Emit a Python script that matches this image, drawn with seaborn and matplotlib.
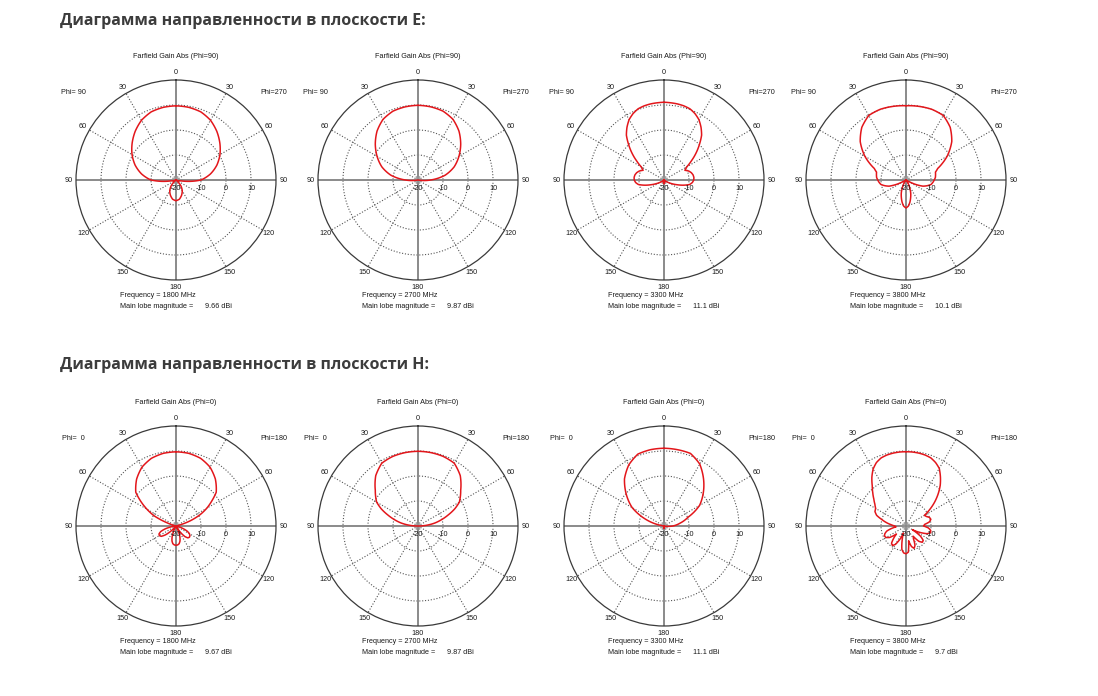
import numpy as np
import pandas as pd
import matplotlib
matplotlib.use("Agg")
import matplotlib.pyplot as plt
import seaborn as sns

sns.set_theme(style="white")
plt.rcParams['font.family'] = ['Liberation Sans', 'DejaVu Sans']

# ---------------- data (gain in dBi vs theta in degrees) ----------------
header_e = "Диаграмма направленности в плоскости E:"
header_h = "Диаграмма направленности в плоскости H:"
frequencies = [1800, 2700, 3300, 3800]
main_lobe_e = ["9.66", "9.87", "11.1", "10.1"]
main_lobe_h = ["9.67", "9.87", "11.1", "9.7"]
angle_tick_labels = ["0", "30", "60", "90", "120", "150", "180", "150", "120", "90", "60", "30"]
radial_ticks = [-20, -10, 0, 10]

# E-plane 1800 MHz
e1800_ang = [0, 10, 20, 30, 40, 50, 60, 70, 80, 90, 95, 100, 110, 120, 130, 140, 150, 160, 170, 180]
e1800_left = [9.66, 9.5, 9.0, 7.6, 5.4, 2.9, 0.3, -2.6, -6.0, -10.0, -14.0, -18.0, -20, -20, -20, -17.0, -15.0, -13.5, -12.2, -11.7]
e1800_right = [9.66, 9.5, 9.0, 7.6, 5.4, 2.9, 0.3, -2.6, -6.0, -10.0, -14.0, -18.0, -20, -20, -20, -17.0, -15.0, -13.5, -12.2, -11.7]

# E-plane 2700 MHz
e2700_ang = [0, 10, 20, 30, 40, 50, 60, 70, 80, 90, 100, 110, 120, 130, 140, 150, 160, 170, 180]
e2700_left = [9.87, 9.7, 9.3, 8.0, 5.5, 2.3, -1.1, -4.6, -9.0, -15.0, -20, -20, -20, -20, -20, -20, -20, -20, -20]
e2700_right = [9.87, 9.7, 9.3, 8.0, 5.5, 2.3, -1.1, -4.6, -9.0, -15.0, -20, -20, -20, -20, -20, -20, -20, -20, -20]

# E-plane 3300 MHz
e3300_ang = [0, 10, 15, 20, 25, 30, 35, 40, 45, 50, 55, 60, 65, 70, 75, 80, 85, 90, 95, 100, 105, 110, 115, 120, 130, 140, 150, 160, 170, 180]
e3300_left = [11.1, 10.9, 10.7, 10.3, 9.3, 7.9, 5.8, 3.4, 0.0, -3.3, -6.6, -9.5, -10.8, -9.5, -8.7, -8.2, -8.0, -8.1, -8.6, -9.6, -12.0, -14.5, -16.5, -18.0, -20, -20, -20, -19.5, -18.8, -18.5]
e3300_right = [11.1, 10.9, 10.7, 10.3, 9.3, 7.9, 5.8, 3.4, 0.0, -3.3, -6.6, -9.5, -10.8, -9.5, -8.7, -8.2, -8.0, -8.1, -8.6, -9.6, -12.0, -14.5, -16.5, -18.0, -20, -20, -20, -19.5, -18.8, -18.5]

# E-plane 3800 MHz
e3800_ang = [0, 10, 20, 30, 40, 50, 60, 65, 70, 75, 80, 85, 90, 95, 100, 105, 110, 115, 120, 130, 140, 150, 155, 160, 165, 170, 175, 180]
e3800_left = [9.7, 9.9, 10.1, 9.8, 7.5, 3.9, -1.0, -3.8, -6.5, -7.8, -8.0, -8.2, -8.7, -9.2, -9.8, -11.2, -12.8, -16.0, -20, -20, -20, -18.0, -16.5, -14.5, -12.8, -11.0, -9.5, -8.8]
e3800_right = [9.7, 9.9, 10.1, 9.8, 7.5, 3.9, -1.0, -3.8, -6.5, -7.8, -8.0, -8.2, -8.7, -9.2, -9.8, -11.2, -12.8, -16.0, -20, -20, -20, -18.0, -16.5, -14.5, -12.8, -11.0, -9.5, -8.8]

# H-plane 1800 MHz
h1800_ang = [0, 10, 20, 30, 40, 50, 55, 60, 65, 70, 75, 80, 90, 100, 105, 110, 115, 120, 125, 130, 135, 140, 145, 150, 155, 160, 165, 170, 175, 180]
h1800_left = [9.67, 9.5, 8.8, 7.2, 4.5, 1.0, -2.8, -6.6, -10.3, -16.0, -20, -20, -20, -18.0, -15.5, -13.5, -12.5, -12.3, -12.8, -14.5, -17.0, -20, -20, -20, -18.0, -15.5, -13.8, -12.8, -12.4, -12.3]
h1800_right = [9.67, 9.5, 8.8, 7.2, 4.5, 1.0, -2.5, -5.8, -9.5, -14.0, -19.0, -20, -20, -20, -19.0, -17.0, -15.0, -13.8, -13.2, -13.0, -13.3, -14.5, -17.0, -20, -18.0, -15.5, -13.8, -12.8, -12.4, -12.3]

# H-plane 2700 MHz
h2700_ang = [0, 10, 20, 30, 40, 50, 60, 65, 70, 75, 80, 85, 90, 100, 110, 120, 130, 140, 150, 160, 170, 180]
h2700_left = [9.87, 9.8, 9.6, 9.0, 6.3, 2.3, -0.9, -3.8, -7.2, -10.3, -13.2, -16.5, -20, -20, -20, -20, -20, -20, -20, -20, -20, -20]
h2700_right = [9.87, 9.8, 9.6, 9.0, 6.3, 2.3, -0.9, -3.8, -7.2, -10.3, -13.2, -16.5, -20, -20, -20, -20, -20, -20, -20, -20, -20, -20]

# H-plane 3300 MHz
h3300_ang = [0, 10, 20, 30, 40, 50, 60, 70, 80, 90, 100, 110, 120, 130, 140, 150, 160, 170, 180]
h3300_left = [11.1, 11.0, 10.6, 8.2, 4.6, -0.3, -5.3, -12.3, -19.0, -20, -20, -20, -20, -20, -20, -20, -20, -19.5, -19.0]
h3300_right = [11.1, 11.0, 10.9, 8.6, 4.6, 0.5, -3.6, -9.8, -13.5, -16.5, -20, -20, -20, -20, -20, -20, -20, -19.5, -19.0]

# H-plane 3800 MHz
h3800_ang = [0, 5, 10, 15, 20, 25, 30, 35, 40, 45, 50, 55, 60, 65, 70, 75, 80, 85, 90,
             95, 100, 105, 110, 115, 120, 125, 130, 135, 140, 145, 150, 155, 160, 165, 170, 175, 180]
h3800_left = [9.7, 9.7, 9.6, 9.4, 9.0, 8.0, 6.3, 3.8, 1.0, -1.2, -3.2, -4.8, -6.0, -6.3, -7.5, -10.0, -12.0, -14.0, -15.5,
              -16.0, -14.0, -12.0, -11.0, -10.5, -10.8, -12.0, -15.0, -13.0, -11.0, -10.5, -11.5, -14.0, -17.0, -14.0, -10.5, -9.2, -8.9]
h3800_right = [9.7, 9.7, 9.6, 9.4, 9.0, 8.0, 6.6, 4.0, 1.3, -1.8, -5.0, -8.3, -11.5, -11.0, -10.0, -9.7, -10.5, -12.5, -13.0,
               -11.0, -10.0, -9.8, -11.0, -14.0, -17.0, -13.0, -11.0, -10.8, -12.0, -15.0, -14.0, -11.5, -10.5, -11.5, -14.0, -9.5, -8.9]

e_patterns = [(e1800_ang, e1800_left, e1800_right), (e2700_ang, e2700_left, e2700_right),
              (e3300_ang, e3300_left, e3300_right), (e3800_ang, e3800_left, e3800_right)]
h_patterns = [(h1800_ang, h1800_left, h1800_right), (h2700_ang, h2700_left, h2700_right),
              (h3300_ang, h3300_left, h3300_right), (h3800_ang, h3800_left, h3800_right)]

# ---------------- layout ----------------
W, H = 1098, 696
R = 100
col_x = [176, 418, 664, 906]
row_y = [180, 526]
RED = "#e3161b"
TXT = "#1a1a1a"
FS = 5.2

fig = plt.figure(figsize=(W / 100, H / 100), dpi=100)
fig.patch.set_facecolor("white")


def draw_panel(cx, cy, pattern, title, side_l, side_r, freq, lobe):
    ang, left, right = pattern
    ax = fig.add_axes([(cx - R) / W, (H - cy - R) / H, 2 * R / W, 2 * R / H], projection="polar")
    ax.set_theta_zero_location("N")
    ax.set_theta_direction(1)
    ax.set_facecolor("white")

    a = np.asarray(ang, dtype=float)
    # left half: theta 0..180 (counter-clockwise), right half: 180..360
    theta = np.deg2rad(np.concatenate([a, 360.0 - a[::-1]]))
    gain = np.concatenate([np.asarray(left, float), np.asarray(right, float)[::-1]])
    df = pd.DataFrame({"theta": theta, "gain": gain})

    # main axes lines (0/180 and 90/270)
    for t in [0, 90, 180, 270]:
        ax.axvline(np.deg2rad(t), color="#8a8a8a", lw=1.4, zorder=1)

    sns.lineplot(data=df, x="theta", y="gain", sort=False, estimator=None,
                 color=RED, lw=1.1, ax=ax, zorder=5)
    line = ax.lines[-1]
    line.get_path()._interpolation_steps = 12  # draw segments along polar arcs
    ax.set_xlabel("")
    ax.set_ylabel("")

    ax.set_ylim(-20, 20)
    ax.set_yticks([-10, 0, 10])
    ax.set_yticklabels([])
    ax.set_xticks(np.deg2rad([30, 60, 120, 150, 210, 240, 300, 330]))
    ax.set_xticklabels([])
    ax.grid(True, color="#555555", lw=0.8, ls=(0, (1, 1.6)))
    ax.spines["polar"].set_color("#3a3a3a")
    ax.spines["polar"].set_linewidth(0.9)
    ax.tick_params(length=0, pad=0)

    # small marker ring at the centre
    ax.plot(np.deg2rad(np.arange(0, 361, 10)), np.full(37, -19.2), color="#9a9a9a", lw=0.7, zorder=4)

    # angle labels
    for i, lab in enumerate(angle_tick_labels):
        ax.text(np.deg2rad(30 * i), 22.9, lab, ha="center", va="center",
                fontsize=FS, color=TXT, clip_on=False)
    # radial labels
    for v in radial_ticks:
        ax.annotate(str(v), xy=(np.deg2rad(270), v), xytext=(0, -6.2),
                    textcoords="offset points", ha="center", va="center",
                    fontsize=FS, color=TXT, annotation_clip=False, zorder=6)

    ax.text(0.5, 1.12, title, transform=ax.transAxes, ha="center", va="center", fontsize=FS, color=TXT)
    ax.text(-0.015, 0.94, side_l, transform=ax.transAxes, ha="center", va="center", fontsize=FS, color=TXT)
    ax.text(0.99, 0.94, side_r, transform=ax.transAxes, ha="center", va="center", fontsize=FS, color=TXT)
    ax.text(0.22, -0.077, f"Frequency = {freq} MHz", transform=ax.transAxes,
            ha="left", va="center", fontsize=FS, color=TXT)
    ax.text(0.22, -0.132, "Main lobe magnitude =", transform=ax.transAxes,
            ha="left", va="center", fontsize=FS, color=TXT)
    ax.text(0.645, -0.132, f"{lobe} dBi", transform=ax.transAxes,
            ha="left", va="center", fontsize=FS, color=TXT)


for i in range(4):
    draw_panel(col_x[i], row_y[0], e_patterns[i], "Farfield Gain Abs (Phi=90)",
               "Phi= 90", "Phi=270", frequencies[i], main_lobe_e[i])
    draw_panel(col_x[i], row_y[1], h_patterns[i], "Farfield Gain Abs (Phi=0)",
               "Phi=  0", "Phi=180", frequencies[i], main_lobe_h[i])

fig.text(60 / W, 1 - 21 / H, header_e, ha="left", va="center", fontsize=11.5,
         fontweight="bold", color="#3c3c3c", family=["Open Sans", "DejaVu Sans"])
fig.text(60 / W, 1 - 365 / H, header_h, ha="left", va="center", fontsize=11.5,
         fontweight="bold", color="#3c3c3c", family=["Open Sans", "DejaVu Sans"])

fig.savefig("out.png", dpi=100, facecolor="white")
